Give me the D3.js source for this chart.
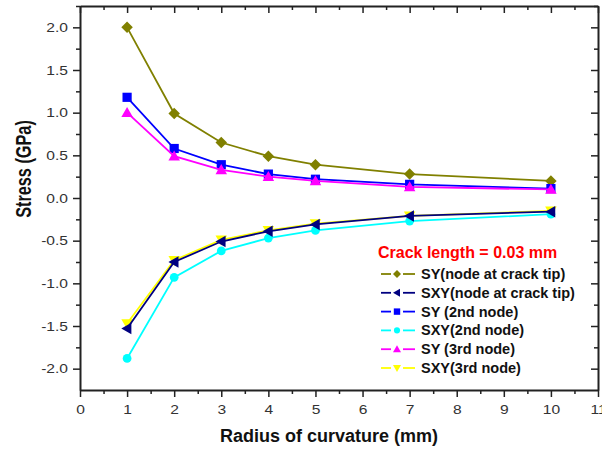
<!DOCTYPE html>
<html>
<head>
<meta charset="utf-8">
<script src="https://cdn.jsdelivr.net/npm/d3@7"></script>
<style>
  html, body { margin: 0; padding: 0; background: #fff; }
  svg { display: block; font-family: "Liberation Sans", Arial, sans-serif; }
</style>
</head>
<body>
<svg id="chart" width="602" height="449"></svg>
<script>
// Radius of curvature (mm) at which the stresses were evaluated
const radius = [1, 2, 3, 4, 5, 7, 10];

// Stress values (GPa) per node
const syTip   = [2.00, 0.99, 0.65, 0.49, 0.39, 0.28, 0.20];
const sxyTip  = [-1.53, -0.75, -0.51, -0.39, -0.31, -0.21, -0.16];
const sy2nd   = [1.18, 0.58, 0.39, 0.28, 0.22, 0.16, 0.11];
const sxy2nd  = [-1.88, -0.93, -0.62, -0.47, -0.38, -0.27, -0.19];
const sy3rd   = [1.00, 0.49, 0.33, 0.25, 0.20, 0.13, 0.10];
const sxy3rd  = [-1.47, -0.73, -0.49, -0.38, -0.30, -0.21, -0.15];

// Axis ticks
const xTicks = [0, 1, 2, 3, 4, 5, 6, 7, 8, 9, 10, 11];
const yTicks = [-2.0, -1.5, -1.0, -0.5, 0.0, 0.5, 1.0, 1.5, 2.0];

const legendTitle = "Crack length = 0.03 mm";

const seriesList = [
  { name: "SY(node at crack tip)",  values: syTip,  color: "#808000", symbol: "diamond" },
  { name: "SXY(node at crack tip)", values: sxyTip, color: "#000080", symbol: "left" },
  { name: "SY (2nd node)",          values: sy2nd,  color: "#0000FF", symbol: "square" },
  { name: "SXY(2nd node)",          values: sxy2nd, color: "#00FFFF", symbol: "circle" },
  { name: "SY (3rd node)",          values: sy3rd,  color: "#FF00FF", symbol: "up" },
  { name: "SXY(3rd node)",          values: sxy3rd, color: "#FFFF00", symbol: "down" }
];
// paint order: the node-at-tip shear curve sits on top of the 3rd-node shear curve
const drawOrder = [0, 2, 4, 5, 3, 1];

const svg = d3.select("#chart");
const plotLeft = 80, plotRight = 598, plotTop = 6, plotBottom = 390;

const x = d3.scaleLinear().domain([0, 11]).range([plotLeft, plotRight]);
const y = d3.scaleLinear().domain([-2.25, 2.25]).range([plotBottom, plotTop]);

const axisColor = "#222";

function markerPath(symbol, s) {
  const h = s / 2;
  switch (symbol) {
    case "diamond": return `M0,${-h}L${h},0L0,${h}L${-h},0Z`;
    case "square":  return `M${-h*0.8},${-h*0.8}H${h*0.8}V${h*0.8}H${-h*0.8}Z`;
    case "up":      return `M0,${-h}L${h},${h*0.75}L${-h},${h*0.75}Z`;
    case "down":    return `M0,${h}L${h},${-h*0.75}L${-h},${-h*0.75}Z`;
    case "left":    return `M${-h},0L${h*0.75},${-h}L${h*0.75},${h}Z`;
    default: return null;
  }
}

function drawMarker(g, symbol, cx, cy, size, color) {
  if (symbol === "circle") {
    g.append("circle").attr("cx", cx).attr("cy", cy).attr("r", size * 0.38).attr("fill", color);
  } else {
    g.append("path").attr("d", markerPath(symbol, size))
      .attr("transform", `translate(${cx},${cy})`).attr("fill", color);
  }
}

// ---- series ----
const plot = svg.append("g");
const line = d3.line().x((d, i) => x(radius[i])).y(d => y(d));
drawOrder.forEach(k => {
  const s = seriesList[k];
  const g = plot.append("g");
  g.append("path").datum(s.values).attr("d", line)
    .attr("fill", "none").attr("stroke", s.color).attr("stroke-width", 1.8);
  s.values.forEach((v, i) => drawMarker(g, s.symbol, x(radius[i]), y(v), 11.5, s.color));
});

// ---- axes ----
function styleAxis(g) {
  g.select(".domain").attr("stroke", axisColor).attr("stroke-width", 2);
  g.selectAll(".tick line").attr("stroke", axisColor).attr("stroke-width", 1.5);
}
function minorStyle(g) {
  g.select(".domain").remove();
  g.selectAll(".tick line").attr("stroke", axisColor).attr("stroke-width", 1.5);
}

const xMinor = d3.range(0.5, 11, 1);
const yMinor = d3.range(-1.75, 2.3, 0.5);

// bottom
const gx = svg.append("g").attr("transform", `translate(0,${plotBottom})`)
  .call(d3.axisBottom(x).tickValues(xTicks).tickSize(7).tickSizeOuter(0).tickFormat(d => String(d)));
styleAxis(gx);
gx.selectAll(".tick text").attr("fill", "#333").attr("font-size", 12)
  .attr("y", 0).attr("dy", 0)
  .attr("transform", "translate(0,24) scale(1.3,1)");
svg.append("g").attr("transform", `translate(0,${plotBottom})`)
  .call(d3.axisBottom(x).tickValues(xMinor).tickSize(4).tickSizeOuter(0).tickFormat(""))
  .call(minorStyle);

// top (ticks point inward)
const gt = svg.append("g").attr("transform", `translate(0,${plotTop})`)
  .call(d3.axisBottom(x).tickValues(xTicks).tickSize(7).tickSizeOuter(0).tickFormat(""));
styleAxis(gt);
svg.append("g").attr("transform", `translate(0,${plotTop})`)
  .call(d3.axisBottom(x).tickValues(xMinor).tickSize(4).tickSizeOuter(0).tickFormat(""))
  .call(minorStyle);

// left
const gy = svg.append("g").attr("transform", `translate(${plotLeft},0)`)
  .call(d3.axisLeft(y).tickValues(yTicks).tickSize(7).tickSizeOuter(0).tickFormat(d => d.toFixed(1)));
styleAxis(gy);
gy.selectAll(".tick text").attr("fill", "#333").attr("font-size", 12)
  .attr("x", 0).attr("dy", "0.36em")
  .attr("transform", "translate(-12,0) scale(1.3,1)");
svg.append("g").attr("transform", `translate(${plotLeft},0)`)
  .call(d3.axisLeft(y).tickValues(yMinor).tickSize(4).tickSizeOuter(0).tickFormat(""))
  .call(minorStyle);

// right (ticks point inward)
const gr = svg.append("g").attr("transform", `translate(${plotRight},0)`)
  .call(d3.axisLeft(y).tickValues(yTicks).tickSize(7).tickSizeOuter(0).tickFormat(""));
styleAxis(gr);
svg.append("g").attr("transform", `translate(${plotRight},0)`)
  .call(d3.axisLeft(y).tickValues(yMinor).tickSize(4).tickSizeOuter(0).tickFormat(""))
  .call(minorStyle);

// ---- axis titles ----
svg.append("text").attr("x", 329).attr("y", 442).attr("text-anchor", "middle")
  .attr("font-size", 18).attr("font-weight", "bold").attr("fill", "#111")
  .text("Radius of curvature (mm)");
svg.append("text")
  .attr("transform", "translate(31,169) scale(1,0.74) rotate(-90)")
  .attr("text-anchor", "middle")
  .attr("font-size", 22).attr("font-weight", "bold").attr("fill", "#111")
  .text("Stress (GPa)");

// ---- legend ----
const lg = svg.append("g");
lg.append("text").attr("x", 378).attr("y", 258)
  .attr("font-size", 16).attr("font-weight", "bold").attr("fill", "#FF0000")
  .text(legendTitle);
seriesList.forEach((s, i) => {
  const cy = 274 + i * 18.8;
  lg.append("line").attr("x1", 381).attr("x2", 391).attr("y1", cy).attr("y2", cy)
    .attr("stroke", s.color).attr("stroke-width", 1.8);
  lg.append("line").attr("x1", 403).attr("x2", 415).attr("y1", cy).attr("y2", cy)
    .attr("stroke", s.color).attr("stroke-width", 1.8);
  drawMarker(lg, s.symbol, 397, cy, 8, s.color);
  lg.append("text").attr("x", 421).attr("y", cy + 5)
    .attr("font-size", 14.5).attr("font-weight", "bold").attr("fill", "#111")
    .text(s.name);
});
</script>
</body>
</html>
